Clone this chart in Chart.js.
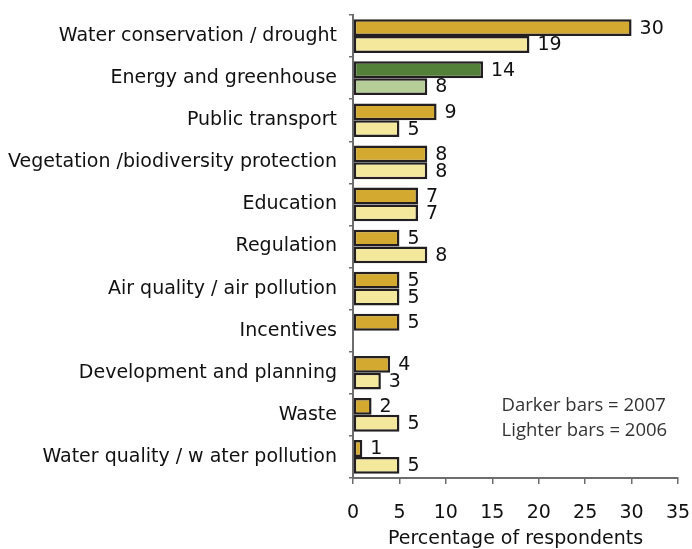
<!DOCTYPE html>
<html>
<head>
<meta charset="utf-8">
<script src="https://cdn.jsdelivr.net/npm/chart.js@4"></script>
<style>
  html, body { margin: 0; padding: 0; background: #fff; }
  canvas { display: block; }
</style>
</head>
<body>
<canvas id="chart" width="692" height="549"></canvas>
<script>
const categories = [
    "Water conservation / drought",
    "Energy and greenhouse",
    "Public transport",
    "Vegetation /biodiversity protection",
    "Education",
    "Regulation",
    "Air quality / air pollution",
    "Incentives",
    "Development and planning",
    "Waste",
    "Water quality / w ater pollution",
];
const values2007 = [30, 14, 9, 8, 7, 5, 5, 5, 4, 2, 1];
const values2006 = [19, 8, 5, 8, 7, 8, 5, null, 3, 5, 5];
const xTicks = [0, 5, 10, 15, 20, 25, 30, 35];
const notes = ["Darker bars = 2007", "Lighter bars = 2006"];

const C = {
    gold:       "#D4A92F",
    goldLight:  "#F4E89C",
    green:      "#54813A",
    greenLight: "#B5CE98",
    edge:       "#231F20",
    axis:       "#6d6d6d",
    text:       "#111",
};
const FONT = "'DejaVu Sans', sans-serif";

// energy row is highlighted in green
const darkColors  = categories.map((c, i) => i === 1 ? C.green : C.gold);
const lightColors = categories.map((c, i) => i === 1 ? C.greenLight : C.goldLight);

const valueLabels = {
    id: "valueLabels",
    afterDatasetsDraw(chart) {
        const ctx = chart.ctx;
        ctx.save();
        ctx.font = `19px ${FONT}`;
        ctx.fillStyle = C.text;
        ctx.textAlign = "left";
        ctx.textBaseline = "middle";
        chart.data.datasets.forEach((ds, di) => {
            chart.getDatasetMeta(di).data.forEach((el, i) => {
                const v = ds.data[i];
                if (v === null || v === undefined) return;
                ctx.fillText(String(v), el.x + 8, el.y + 1);
            });
        });
        ctx.restore();
    },
};

const note = {
    id: "note",
    afterDraw(chart) {
        const ctx = chart.ctx;
        const x = chart.scales.x.getPixelForValue(16);
        ctx.save();
        ctx.font = "18.5px 'Open Sans', sans-serif";
        ctx.fillStyle = "#333";
        ctx.textAlign = "left";
        ctx.textBaseline = "middle";
        ctx.fillText(notes[0], x, 406);
        ctx.fillText(notes[1], x, 431);
        ctx.restore();
    },
};

new Chart(document.getElementById("chart"), {
    type: "bar",
    data: {
        labels: categories,
        datasets: [
            {
                label: "2007",
                data: values2007,
                backgroundColor: darkColors,
                borderColor: C.edge,
                borderWidth: 2.5,
                borderSkipped: false,
                categoryPercentage: 0.8,
                barPercentage: 1,
            },
            {
                label: "2006",
                data: values2006,
                backgroundColor: lightColors,
                borderColor: C.edge,
                borderWidth: 2.5,
                borderSkipped: false,
                categoryPercentage: 0.8,
                barPercentage: 1,
            },
        ],
    },
    options: {
        indexAxis: "y",
        responsive: false,
        animation: false,
        layout: { padding: { top: 15, right: 14, bottom: 0, left: 0 } },
        plugins: {
            legend: { display: false },
            tooltip: { enabled: false },
        },
        scales: {
            x: {
                min: 0,
                max: 35,
                afterBuildTicks: scale => { scale.ticks = xTicks.map(v => ({ value: v })); },
                afterFit: scale => {
                    scale.height = 71;
                    scale.paddingLeft = 0;
                    scale.paddingRight = 0;
                },
                border: { color: C.axis, width: 2 },
                grid: { drawOnChartArea: false, tickLength: 6, color: C.axis, lineWidth: 1.5 },
                ticks: { color: C.text, font: { family: FONT, size: 19 }, padding: 18, maxRotation: 0 },
                title: {
                    display: true,
                    text: "Percentage of respondents",
                    color: C.text,
                    font: { family: FONT, size: 19, lineHeight: 1 },
                    padding: { top: 0, bottom: 0 },
                },
            },
            y: {
                afterFit: scale => {
                    scale.width = 353;
                    scale.paddingTop = 0;
                    scale.paddingBottom = 0;
                },
                border: { color: C.axis, width: 2 },
                grid: { drawOnChartArea: false, tickLength: 4, color: C.axis, lineWidth: 1.5 },
                ticks: { color: C.text, font: { family: FONT, size: 19 }, padding: 12, autoSkip: false },
            },
        },
    },
    plugins: [valueLabels, note],
});
</script>
</body>
</html>
